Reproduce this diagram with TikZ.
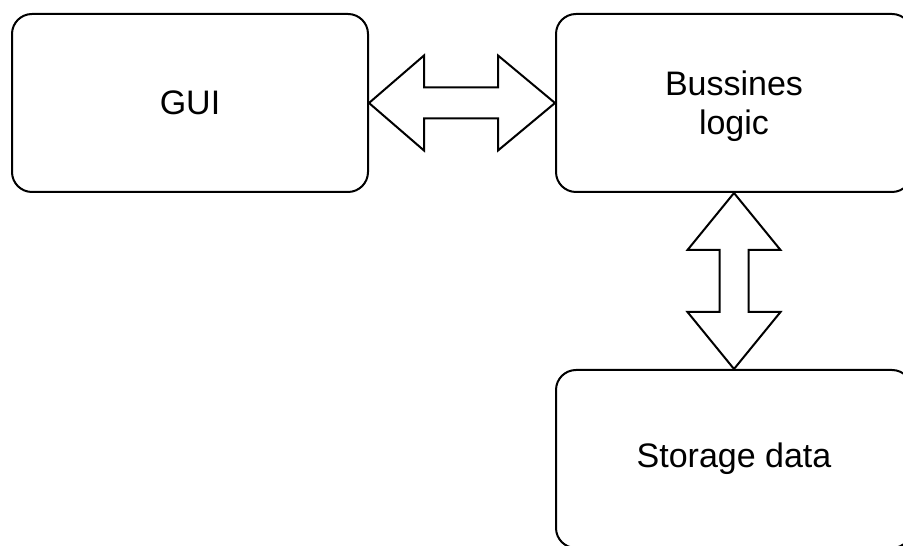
\documentclass[tikz,border=0pt]{standalone}
\usepackage{fontspec}
\setmainfont{Liberation Sans}
\usetikzlibrary{calc}
\begin{document}
\begin{tikzpicture}[x=1pt,y=1pt,
  block/.style={draw=black, line width=2pt, rounded corners=20pt, fill=white,
    minimum width=356pt, minimum height=178pt, inner sep=0pt,
    align=center, font=\fontsize{34}{39}\selectfont},
  fatarrow/.style={draw=black, line width=2pt, fill=white, line join=miter}]
  \useasboundingbox (0,0) rectangle (903,546);
  \clip (0,0) rectangle (903,546);

  % the three layers
  \node[block] (gui) at (190,443) {GUI};
  \node[block, text depth=0pt] (biz) at (734,443) {Bussines\\logic};
  \node[block] (store) at (734,87) {Storage data};

  % two-headed block arrow between GUI and business logic
  \draw[fatarrow] (gui.east)
    -- ($(gui.east)+(55,47.5)$) -- ($(gui.east)+(55,15.5)$)
    -- ($(biz.west)+(-57,15.5)$) -- ($(biz.west)+(-57,47.5)$)
    -- (biz.west)
    -- ($(biz.west)+(-57,-47.5)$) -- ($(biz.west)+(-57,-15.5)$)
    -- ($(gui.east)+(55,-15.5)$) -- ($(gui.east)+(55,-47.5)$)
    -- cycle;

  % two-headed block arrow between business logic and storage
  \draw[fatarrow] (biz.south)
    -- ($(biz.south)+(46.5,-57)$) -- ($(biz.south)+(14.5,-57)$)
    -- ($(store.north)+(14.5,57)$) -- ($(store.north)+(46.5,57)$)
    -- (store.north)
    -- ($(store.north)+(-46.5,57)$) -- ($(store.north)+(-14.5,57)$)
    -- ($(biz.south)+(-14.5,-57)$) -- ($(biz.south)+(-46.5,-57)$)
    -- cycle;
\end{tikzpicture}
\end{document}
